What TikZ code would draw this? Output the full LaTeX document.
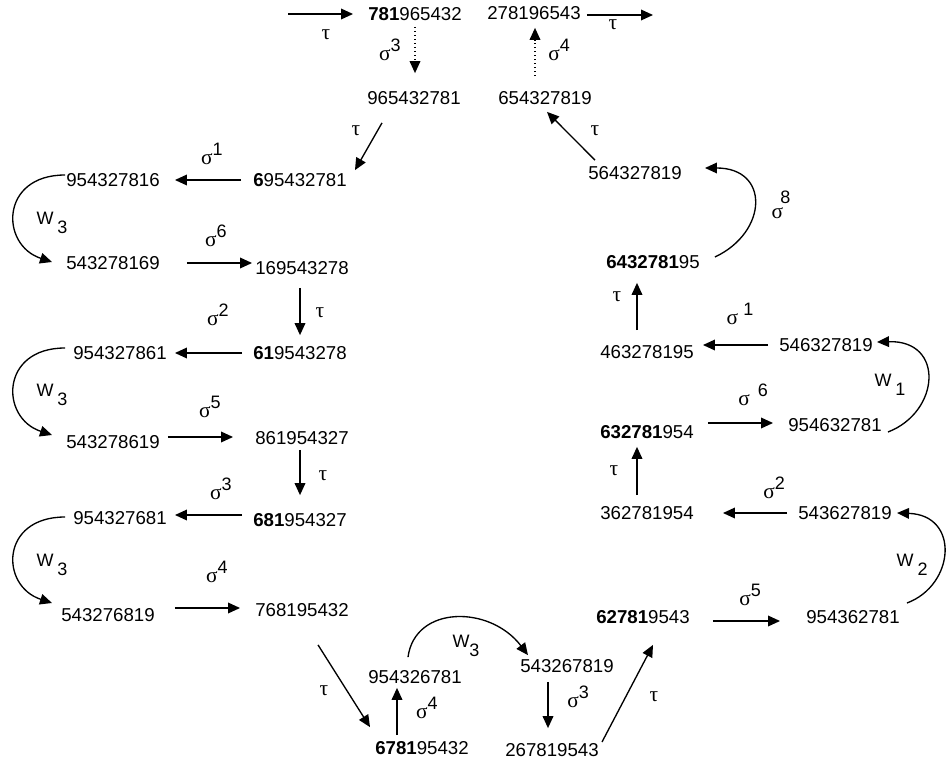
\documentclass[tikz,border=0pt]{standalone}
\usepackage{fontspec}
\setmainfont{Liberation Sans}
\newfontfamily\grk{Liberation Serif}
\usetikzlibrary{arrows.meta}
\newcommand{\gs}{{\grk\fontsize{16}{16}\selectfont σ}}
\newcommand{\sg}[2][0pt]{\gs\hspace{#1}\raisebox{7pt}{#2}}
\newcommand{\ww}[2][3pt]{W\hspace{#1}\raisebox{-7pt}{#2}}
\newcommand{\ta}{{\grk\fontsize{16}{16}\selectfont τ}}

\begin{document}
\begin{tikzpicture}[x=0.75pt,y=-0.75pt,
  perm/.style={inner sep=0pt,font=\fontsize{14}{16}\selectfont},
  lbl/.style={inner sep=0pt,font=\fontsize{13.5}{15}\selectfont},
  arr/.style={line width=1pt,-{Triangle[length=9pt,width=8pt]}}]
\useasboundingbox (0,0) rectangle (946,763);

% top
\node[perm] (a1) at (415,14) {\textbf{781}965432};
\node[perm] (a2) at (414,98) {965432781};
\node[perm] (b1) at (534,13) {278196543};
\node[perm] (b2) at (545,98) {654327819};
\coordinate (tin) at (288,14);
\coordinate (tout) at (653,15);

% left column
\node[perm] (l1) at (300,180) {\textbf{6}95432781};
\node[perm] (l2) at (113,180) {954327816};
\node[perm] (l3) at (113,263) {543278169};
\node[perm] (l4) at (302,268) {169543278};
\node[perm] (l5) at (300,353) {\textbf{61}9543278};
\node[perm] (l6) at (120,353) {954327861};
\node[perm] (l7) at (113,442) {543278619};
\node[perm] (l8) at (302,438) {861954327};
\node[perm] (l9) at (300,520) {\textbf{681}954327};
\node[perm] (l10) at (120,518) {954327681};
\node[perm] (l11) at (108,615) {543276819};
\node[perm] (l12) at (302,610) {768195432};

% bottom
\node[perm] (m1) at (422,748) {\textbf{6781}95432};
\node[perm] (m2) at (415,677) {954326781};
\node[perm] (m3) at (567,666) {543267819};
\node[perm] (m4) at (552,750) {267819543};

% right column
\node[perm] (r1) at (643,617) {\textbf{62781}9543};
\node[perm] (r2) at (853,617) {954362781};
\node[perm] (r3) at (845,513) {543627819};
\node[perm] (r4) at (647,513) {362781954};
\node[perm] (r5) at (647,432) {\textbf{632781}954};
\node[perm] (r6) at (835,425) {954632781};
\node[perm] (r7) at (826,345) {546327819};
\node[perm] (r8) at (647,352) {463278195};
\node[perm] (r9) at (653,262) {\textbf{6432781}95};
\node[perm] (r10) at (635,173) {564327819};

% arrows
\draw[arr] (tin) -- ([shift={(-15,0)}]a1.west);
\draw[arr] ([shift={(6,2)}]b1.east) -- (tout);
\draw[arr,dotted] ([shift={(0,6)}]a1.south) -- ([shift={(1,-18)}]a2.north);
\draw[arr,dotted] ([shift={(-10,-15)}]b2.north) -- ([shift={(1,8)}]b1.south);
\draw[arr] ([shift={(-32,18)}]a2.south) -- ([shift={(8,-3)}]l1.north east);
\draw[arr] ([shift={(-12,0)}]l1.west) -- ([shift={(15,0)}]l2.east);
\draw[arr] ([shift={(-1,-5)}]l2.west) .. controls (0,175) and (0,245) .. ([shift={(-14,-1)}]l3.west);
\draw[arr] ([shift={(27,0)}]l3.east) -- ([shift={(-3,-5)}]l4.west);
\draw[arr] ([shift={(-2,13)}]l4.south) -- ([shift={(0,-11)}]l5.north);
\draw[arr] ([shift={(-11,0)}]l5.west) -- ([shift={(8,0)}]l6.east);
\draw[arr] ([shift={(-8,-5)}]l6.west) .. controls (0,348) and (0,418) .. ([shift={(-14,-7)}]l7.west);
\draw[arr] ([shift={(8,-5)}]l7.east) -- ([shift={(-22,-1)}]l8.west);
\draw[arr] ([shift={(-2,5)}]l8.south) -- ([shift={(0,-18)}]l9.north);
\draw[arr] ([shift={(-11,-5)}]l9.west) -- ([shift={(8,-3)}]l10.east);
\draw[arr] ([shift={(-8,-1)}]l10.west) .. controls (0,517) and (0,586) .. ([shift={(-9,-12)}]l11.west);
\draw[arr] ([shift={(20,-7)}]l11.east) -- ([shift={(-15,-2)}]l12.west);
\draw[arr] ([shift={(16,28)}]l12.south) -- ([shift={(-5,-14)}]m1.north west);
\draw[arr] ([shift={(-25,-6)}]m1.north) -- ([shift={(-18,4)}]m2.south);
\draw[arr] ([shift={(-7,-13)}]m2.north) .. controls (415,605) and (490,605) .. ([shift={(-39,-4)}]m3.north);
\draw[arr] ([shift={(-19,9)}]m3.south) -- ([shift={(-4,-15)}]m4.north);
\draw[arr] ([shift={(3,-8)}]m4.east) -- ([shift={(10,21)}]r1.south);
\draw[arr] ([shift={(23,4)}]r1.east) -- ([shift={(-26,4)}]r2.west);
\draw[arr] ([shift={(7,-14)}]r2.east) .. controls (955,585) and (960,515) .. ([shift={(5,0)}]r3.east);
\draw[arr] ([shift={(-11,0)}]r3.west) -- ([shift={(29,0)}]r4.east);
\draw[arr] ([shift={(-10,-11)}]r4.north) -- ([shift={(-10,8)}]r5.south);
\draw[arr] ([shift={(14,-9)}]r5.east) -- ([shift={(-15,-2)}]r6.west);
\draw[arr] ([shift={(6,7)}]r6.east) .. controls (940,412) and (945,340) .. ([shift={(4,-3)}]r7.east);
\draw[arr] ([shift={(-11,0)}]r7.west) -- ([shift={(9,-7)}]r8.east);
\draw[arr] ([shift={(-10,-15)}]r8.north) -- ([shift={(-16,14)}]r9.south);
\draw[arr] ([shift={(15,-5)}]r9.east) .. controls (768,232) and (770,168) .. ([shift={(23,-5)}]r10.east);
\draw[arr] ([shift={(-40,-6)}]r10.north) -- ([shift={(2,7)}]b2.south);

% labels
\node[lbl] (t1) at (326,35) {\ta};
\node[lbl] (t2) at (613,25) {\ta};
\node[lbl] (s1) at (390,50) {\sg{3}};
\node[lbl] (s2) at (559,50) {\sg{4}};
\node[lbl] (t3) at (356,131) {\ta};
\node[lbl] (s3) at (212,154) {\sg{1}};
\node[lbl] (w1) at (52,223) {\ww{3}};
\node[lbl] (s4) at (216,236) {\sg{6}};
\node[lbl] (t4) at (320,313) {\ta};
\node[lbl] (s5) at (218,315) {\sg{2}};
\node[lbl] (w2) at (52,395) {\ww{3}};
\node[lbl] (s6) at (210,407) {\sg{5}};
\node[lbl] (t5) at (323,476) {\ta};
\node[lbl] (s7) at (221,489) {\sg{3}};
\node[lbl] (w3) at (52,565) {\ww{3}};
\node[lbl] (s8) at (217,572) {\sg{4}};
\node[lbl] (t6) at (324,691) {\ta};
\node[lbl] (s9) at (427,708) {\sg{4}};
\node[lbl] (w4) at (466,646) {\ww[0pt]{3}};
\node[lbl] (s10) at (578,697) {\sg{3}};
\node[lbl] (t7) at (654,697) {\ta};
\node[lbl] (s11) at (750,595) {\sg{5}};
\node[lbl] (w5) at (912,565) {\ww{2}};
\node[lbl] (s12) at (774,488) {\sg{2}};
\node[lbl] (t8) at (614,471) {\ta};
\node[lbl] (s13) at (753,395) {\sg[6pt]{6}};
\node[lbl] (w6) at (890,385) {\ww{1}};
\node[lbl] (s14) at (740,314) {\sg[4pt]{1}};
\node[lbl] (t9) at (617,297) {\ta};
\node[lbl] (s15) at (781,205) {\gs\hspace{-2pt}\raisebox{11pt}{8}};
\node[lbl] (t10) at (595,131) {\ta};
\end{tikzpicture}
\end{document}
